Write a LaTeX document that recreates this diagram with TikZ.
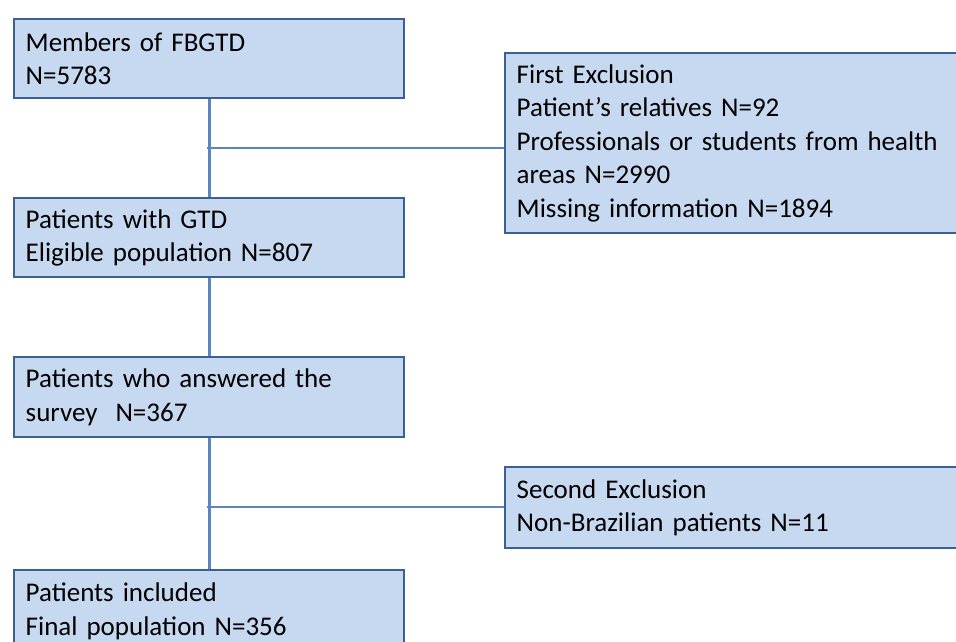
\documentclass[tikz,border=0pt]{standalone}
\usepackage{fontspec}
\setmainfont{Carlito}
\definecolor{boxfill}{HTML}{C6D9F1}
\definecolor{boxdraw}{HTML}{3B6194}
\definecolor{linkcol}{HTML}{5A86C0}
\begin{document}
\begin{tikzpicture}[x=1pt,y=-1pt,
  flowbox/.style={draw=boxdraw, fill=boxfill, line width=2.4pt, anchor=north west,
    inner xsep=11.5pt, inner ysep=0pt, align=left, font=\fontsize{27}{33.5}\selectfont},
  leftbox/.style={flowbox, minimum width=390pt, text width=367pt},
  rightbox/.style={flowbox, minimum width=480pt, text width=457pt},
  link/.style={draw=linkcol, line width=2.6pt}]
\useasboundingbox (0,0) rectangle (956,641);
\clip (0,0) rectangle (956,641);
\node[leftbox, minimum height=79pt] (b1) at (13,18) {Members of FBGTD\\N=5783};
\node[rightbox, minimum height=180pt] (e1) at (504,52) {First Exclusion\\Patient’s relatives N=92\\Professionals or students from health\\areas N=2990\\Missing information N=1894};
\node[leftbox, minimum height=79pt] (b2) at (13,197) {Patients with GTD\\Eligible population N=807};
\node[leftbox, minimum height=80pt] (b3) at (13,356) {Patients who answered the\\survey\ \ N=367};
\node[rightbox, minimum height=81pt] (e2) at (504,466) {Second Exclusion\\Non-Brazilian patients N=11};
\node[leftbox, minimum height=82pt] (b4) at (13,569) {Patients included\\Final population N=356};
\coordinate (j1) at (207,148);
\coordinate (j2) at (207,507);
\draw[link] (b1.south) -- (b2.north);
\draw[link] (b2.south) -- (b3.north);
\draw[link] (b3.south) -- (b4.north);
\draw[link] (j1) -- (j1 -| e1.west);
\draw[link] (j2) -- (j2 -| e2.west);
\end{tikzpicture}
\end{document}
